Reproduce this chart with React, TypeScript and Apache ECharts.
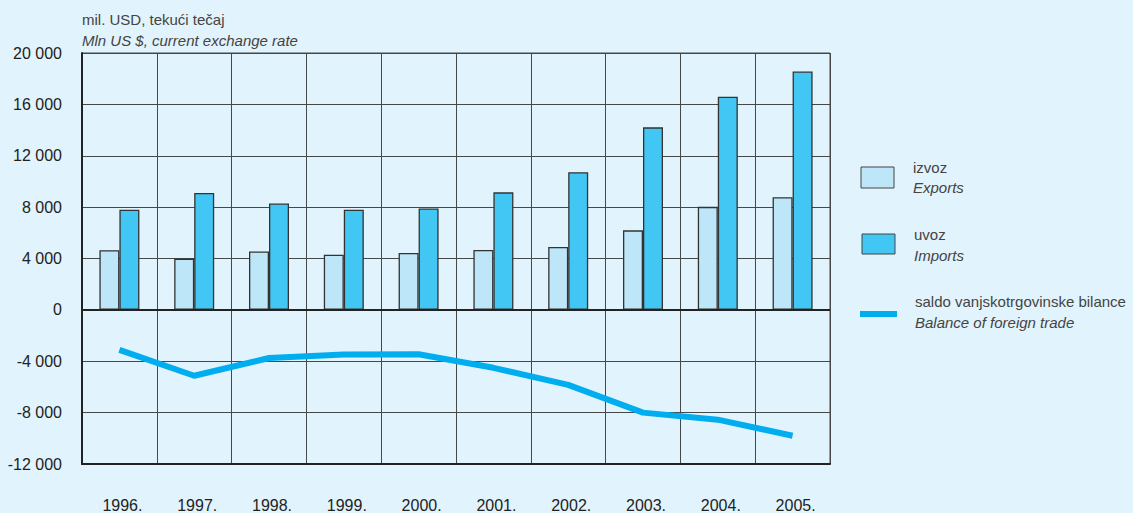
import React, { useEffect, useRef } from "react";
import * as echarts from "echarts";

const years = ["1996.", "1997.", "1998.", "1999.", "2000.", "2001.", "2002.", "2003.", "2004.", "2005."];
const exportsData = [4650, 3980, 4540, 4300, 4430, 4660, 4900, 6190, 8020, 8770];
const importsData = [7790, 9100, 8280, 7800, 7890, 9150, 10720, 14210, 16590, 18560];
const balanceData = [-3120, -5130, -3750, -3480, -3460, -4510, -5840, -8000, -8550, -9800];

const titleLines = ["mil. USD, tekući tečaj", "Mln US $, current exchange rate"];
const legendLabels = [
  ["izvoz", "Exports"],
  ["uvoz", "Imports"],
  ["saldo vanjskotrgovinske bilance", "Balance of foreign trade"],
];

const FONT = "Liberation Sans, Arial, sans-serif";
const C_EXP = "#bde6f8";
const C_IMP = "#42c6f3";
const C_LINE = "#00aeef";
const C_GRID = "#474747";

export default function App() {
  const ref = useRef<HTMLDivElement>(null);
  useEffect(() => {
    if (!ref.current) return;
    const chart = echarts.init(ref.current, null, { renderer: "svg" });
    const fmt = (v: number) => {
      const s = Math.abs(v).toString().replace(/\B(?=(\d{3})+(?!\d))/g, " ");
      return (v < 0 ? "-" : "") + s;
    };
    const txt = (x: number, y: number, text: string, italic = false) => ({
      type: "text",
      x,
      y,
      style: { text, font: `${italic ? "italic " : ""}15px ${FONT}`, fill: "#444" },
    });
    chart.setOption({
      animation: false,
      backgroundColor: "#e1f3fc",
      grid: {
        left: 82,
        top: 53,
        right: 303,
        bottom: 47,
        show: true,
        borderColor: C_GRID,
        borderWidth: 1,
      },
      xAxis: {
        type: "category",
        data: years,
        axisLine: { onZero: false, lineStyle: { color: "#222", width: 2 } },
        axisTick: { show: false },
        splitLine: { show: true, lineStyle: { color: C_GRID, width: 1 } },
        axisLabel: {
          margin: 33,
          fontSize: 16,
          fontFamily: FONT,
          color: "#222",
          padding: [0, 0, 0, 6],
        },
      },
      yAxis: {
        type: "value",
        min: -12000,
        max: 20000,
        interval: 4000,
        axisLine: { show: true, lineStyle: { color: "#222", width: 2 } },
        axisTick: { show: false },
        splitLine: { show: true, lineStyle: { color: C_GRID, width: 1 } },
        axisLabel: {
          margin: 20,
          fontSize: 16,
          fontFamily: FONT,
          color: "#222",
          formatter: (v: number) => fmt(v),
        },
      },
      series: [
        {
          name: "Exports",
          type: "bar",
          data: exportsData,
          barWidth: 20,
          barGap: "0%",
          itemStyle: { color: C_EXP, borderColor: "#333", borderWidth: 1.3 },
          markLine: {
            silent: true,
            symbol: "none",
            label: { show: false },
            lineStyle: { color: "#222", width: 2, type: "solid" },
            data: [{ yAxis: 0 }],
          },
        },
        {
          name: "Imports",
          type: "bar",
          data: importsData,
          barWidth: 20,
          barGap: "0%",
          itemStyle: { color: C_IMP, borderColor: "#333", borderWidth: 1.3 },
        },
        {
          name: "Balance",
          type: "line",
          data: balanceData,
          showSymbol: false,
          symbol: "none",
          z: 5,
          lineStyle: { color: C_LINE, width: 6 },
        },
      ],
      graphic: [
        txt(82, 12, titleLines[0]),
        txt(82, 33, titleLines[1], true),
        {
          type: "rect",
          shape: { x: 861, y: 167, width: 33, height: 21 },
          style: { fill: C_EXP, stroke: "#444", lineWidth: 1 },
        },
        txt(913, 160, legendLabels[0][0]),
        txt(913, 180, legendLabels[0][1], true),
        {
          type: "rect",
          shape: { x: 862, y: 234, width: 33, height: 20 },
          style: { fill: C_IMP, stroke: "#444", lineWidth: 1 },
        },
        txt(914, 227, legendLabels[1][0]),
        txt(914, 248, legendLabels[1][1], true),
        {
          type: "rect",
          shape: { x: 860, y: 311, width: 37, height: 6 },
          style: { fill: C_LINE },
        },
        txt(915, 294, legendLabels[2][0]),
        txt(915, 315, legendLabels[2][1], true),
      ],
    });
    return () => chart.dispose();
  }, []);
  return (
    <div
      ref={ref}
      style={{ position: "fixed", left: 0, top: 0, width: 1133, height: 513 }}
    />
  );
}
